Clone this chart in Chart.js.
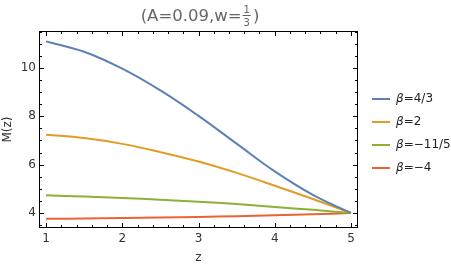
<!DOCTYPE html>
<html>
<head>
<meta charset="utf-8">
<script src="https://cdn.jsdelivr.net/npm/chart.js@4"></script>
<style>
html, body { margin: 0; padding: 0; background: #fff; }
#wrap { width: 451px; height: 269px; }
</style>
</head>
<body>
<div id="wrap"><canvas id="chart" width="451" height="269"></canvas></div>
<script>
var Z = [1, 1.5, 2, 2.5, 3, 3.5, 4, 4.5, 5];
var BLUE = [11.1, 10.67, 9.97, 9.07, 8.02, 6.87, 5.72, 4.75, 4.0];
var ORANGE = [7.24, 7.10, 6.86, 6.52, 6.13, 5.66, 5.13, 4.58, 4.0];
var GREEN = [4.73, 4.68, 4.62, 4.55, 4.47, 4.37, 4.25, 4.13, 4.0];
var RED = [3.76, 3.77, 3.79, 3.81, 3.84, 3.87, 3.91, 3.95, 4.0];
var LABELS = ['4/3', '2', '\u221211/5', '\u22124'];
var X_TICKS = [1, 2, 3, 4, 5];
var Y_TICKS = [4, 6, 8, 10];

var COLORS = ['#5E81B5', '#E19C24', '#8FB032', '#EB6235'];
var FONT = '"DejaVu Sans", sans-serif';

function pts(ys) {
	return Z.map(function (z, i) { return { x: z, y: ys[i] }; });
}

var series = [BLUE, ORANGE, GREEN, RED];

var chartData = {
	datasets: series.map(function (ys, i) {
		return {
			label: '\u03b2=' + LABELS[i],
			data: pts(ys),
			borderColor: COLORS[i],
			backgroundColor: COLORS[i],
			borderWidth: 2,
			pointRadius: 0,
			tension: 0.4
		};
	})
};

// frame, inside ticks, title, axis titles, legend
var decor = {
	id: 'decor',
	afterDraw: function (chart) {
		var ctx = chart.ctx;
		var a = chart.chartArea;
		var xs = chart.scales.x, ys = chart.scales.y;
		ctx.save();
		ctx.strokeStyle = '#000';
		ctx.lineWidth = 1;
		ctx.strokeRect(a.left + 0.5, a.top + 0.5, a.right - a.left - 1, a.bottom - a.top - 1);

		ctx.beginPath();
		var v, p, major;
		for (v = 1; v <= 5.0001; v += 0.2) {
			p = Math.round(xs.getPixelForValue(v)) + 0.5;
			major = Math.abs(v - Math.round(v)) < 0.01;
			var l = major ? 5 : 3;
			ctx.moveTo(p, a.bottom); ctx.lineTo(p, a.bottom - l);
			ctx.moveTo(p, a.top); ctx.lineTo(p, a.top + l);
		}
		for (v = 3.5; v <= 11.5001; v += 0.5) {
			p = Math.round(ys.getPixelForValue(v)) + 0.5;
			major = Math.abs(v / 2 - Math.round(v / 2)) < 0.01;
			var m = major ? 5 : 3;
			ctx.moveTo(a.left, p); ctx.lineTo(a.left + m, p);
			ctx.moveTo(a.right, p); ctx.lineTo(a.right - m, p);
		}
		ctx.stroke();

		// title with stacked fraction
		ctx.fillStyle = '#666';
		ctx.textBaseline = 'alphabetic';
		ctx.font = '16.5px ' + FONT;
		var pre = '(A=0.09,w=';
		var wPre = ctx.measureText(pre).width;
		ctx.font = '10px ' + FONT;
		var wFr = ctx.measureText('3').width + 2;
		ctx.font = '16.5px ' + FONT;
		var wPost = ctx.measureText(')').width;
		var tx = (a.left + a.right) / 2 + 1 - (wPre + wFr + wPost + 2) / 2;
		var base = 21;
		ctx.textAlign = 'left';
		ctx.fillText(pre, tx, base);
		var fx = tx + wPre + 1;
		ctx.font = '10px ' + FONT;
		ctx.textAlign = 'center';
		ctx.fillText('1', fx + wFr / 2, 13);
		ctx.fillText('3', fx + wFr / 2, 26);
		ctx.fillRect(fx, 15, wFr, 1);
		ctx.font = '16.5px ' + FONT;
		ctx.textAlign = 'left';
		ctx.fillText(')', fx + wFr + 2, base);

		// axis titles
		ctx.fillStyle = '#333';
		ctx.font = '12px ' + FONT;
		ctx.textAlign = 'center';
		ctx.textBaseline = 'middle';
		ctx.fillText('z', (a.left + a.right) / 2, 258);
		ctx.save();
		ctx.translate(8, (a.top + a.bottom) / 2);
		ctx.rotate(-Math.PI / 2);
		ctx.fillText('M(z)', 0, 0);
		ctx.restore();

		// legend
		ctx.textAlign = 'left';
		ctx.textBaseline = 'middle';
		chart.data.datasets.forEach(function (ds, i) {
			var y = 99 + i * 23;
			ctx.strokeStyle = ds.borderColor;
			ctx.lineWidth = 2;
			ctx.beginPath();
			ctx.moveTo(372, y); ctx.lineTo(390, y);
			ctx.stroke();
			ctx.fillStyle = '#222';
			ctx.font = 'italic 12px ' + FONT;
			ctx.fillText('\u03b2', 396, y);
			var bw = ctx.measureText('\u03b2').width;
			ctx.font = '12px ' + FONT;
			ctx.fillText('=' + LABELS[i], 396 + bw, y);
		});
		ctx.restore();
	}
};

var chartOptions = {
	responsive: false,
	animation: false,
	events: [],
	layout: {
		padding: { top: 31, right: 93, left: 0, bottom: 0 }
	},
	scales: {
		x: {
			type: 'linear',
			min: 0.908,
			max: 5.092,
			grid: { display: false, drawTicks: false },
			border: { display: false },
			afterBuildTicks: function (scale) {
				scale.ticks = X_TICKS.map(function (v) { return { value: v }; });
			},
			afterFit: function (scale) { scale.height = 41; },
			ticks: {
				padding: 4,
				maxRotation: 0,
				color: '#333',
				font: { family: FONT, size: 12 }
			}
		},
		y: {
			type: 'linear',
			min: 3.38,
			max: 11.53,
			grid: { display: false, drawTicks: false },
			border: { display: false },
			afterBuildTicks: function (scale) {
				scale.ticks = Y_TICKS.map(function (v) { return { value: v }; });
			},
			afterFit: function (scale) { scale.width = 39; },
			ticks: {
				padding: 3,
				color: '#333',
				font: { family: FONT, size: 12 }
			}
		}
	},
	plugins: {
		legend: { display: false },
		title: { display: false },
		tooltip: { enabled: false }
	}
};

var chartCtx = document.getElementById('chart');

var chart = new Chart(chartCtx, {
	type: 'line',
	data: chartData,
	options: chartOptions,
	plugins: [decor]
});
</script>
</body>
</html>
